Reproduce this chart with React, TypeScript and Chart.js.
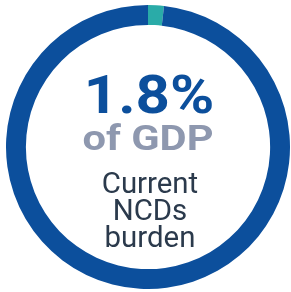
import React, { useEffect, useRef } from "react";
import { Chart, registerables } from "chart.js";

Chart.register(...registerables);

const categories = ["Current NCDs burden", "Rest of GDP"];
const values = [1.8, 98.2];
const colors = ["#2aaba8", "#0c4f9c"];
const headline = "1.8%";
const subline = "of GDP";
const captionLines = ["Current", "NCDs", "burden"];

function drawScaled(ctx: CanvasRenderingContext2D, text: string, x: number, y: number, sx: number) {
  ctx.save();
  ctx.translate(x, y);
  ctx.scale(sx, 1);
  ctx.fillText(text, 0, 0);
  ctx.restore();
}

const centerText = {
  id: "centerText",
  afterDraw(chart: any) {
    const ctx = chart.ctx as CanvasRenderingContext2D;
    const arc = chart.getDatasetMeta(0).data[0];
    const cx = arc.x;
    const cy = arc.y;
    ctx.save();
    ctx.textAlign = "center";
    ctx.textBaseline = "alphabetic";

    ctx.fillStyle = "#0c4f9c";
    ctx.font = "bold 54px Roboto";
    drawScaled(ctx, headline, cx + 1, cy - 34, 1.11);

    ctx.fillStyle = "#8e98af";
    ctx.font = "bold 35px Roboto";
    drawScaled(ctx, subline, cx, cy + 3, 1.19);

    ctx.fillStyle = "#2b3a4c";
    ctx.font = "30px Roboto";
    captionLines.forEach((line, i) => {
      drawScaled(ctx, line, cx + 2, cy + 46 + i * 27, 0.98);
    });
    ctx.restore();
  },
};

export default function App() {
  const ref = useRef<HTMLCanvasElement>(null);
  useEffect(() => {
    if (!ref.current) return;
    const chart = new Chart(ref.current, {
      type: "doughnut",
      data: {
        labels: categories,
        datasets: [
          {
            data: values,
            backgroundColor: colors,
            borderWidth: 0,
            hoverOffset: 0,
          },
        ],
      },
      options: {
        responsive: false,
        animation: false,
        cutout: "86%",
        layout: { padding: 0 },
        plugins: { legend: { display: false }, tooltip: { enabled: false } },
      },
      plugins: [centerText],
    });
    return () => chart.destroy();
  }, []);
  return (
    <div style={{ position: "fixed", left: 0, top: 0, width: 291, height: 292, background: "#fff" }}>
      <canvas
        ref={ref}
        width={284}
        height={284}
        style={{ position: "absolute", left: 6, top: 5, width: 284, height: 284 }}
      />
    </div>
  );
}
